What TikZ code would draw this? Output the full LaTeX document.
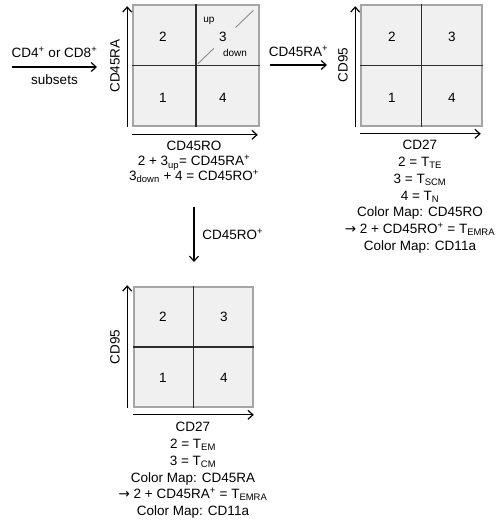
\documentclass[tikz,border=0pt]{standalone}
\usepackage{fontspec}
\setmainfont{Liberation Sans}
\newfontfamily\arrowfont{DejaVu Sans}
\usepackage{xcolor}
\usetikzlibrary{positioning,arrows.meta,calc}

\definecolor{boxfill}{RGB}{240,240,240}
\definecolor{boxedge}{RGB}{165,165,165}
\definecolor{quadcol}{RGB}{45,45,45}
\definecolor{gatecol}{RGB}{140,140,140}

\begin{document}
\begin{tikzpicture}[x=1pt,y=-1pt,>={Straight Barb[length=5pt,width=9pt]},
	font=\fontsize{13.5}{16.8}\selectfont,
	plotbox/.style={draw=boxedge,line width=1.6pt,fill=boxfill,inner sep=0pt},
	quadline/.style={draw=quadcol,line width=1.2pt},
	axis/.style={->,line width=1.2pt},
	flow/.style={->,line width=1.2pt},
	gate/.style={draw=gatecol,line width=0.9pt},
	caption/.style={align=center,anchor=north,inner sep=0pt},
	small/.style={font=\fontsize{10}{12}\selectfont}]

	\useasboundingbox[fill=white] (0,0) rectangle (502,523);

	% input arrow
	\coordinate (inL) at (12,67);
	\coordinate (inR) at (97,67);
	\draw[flow] (inL) -- node[above=5pt]{CD4\textsuperscript{+} or CD8\textsuperscript{+}} node[below=4pt]{subsets} (inR);

	% CD45RA / CD45RO plot
	\node[plotbox,minimum width=126pt,minimum height=121pt] (boxA) at (196,65.5) {};
	\draw[quadline] (boxA.north) -- (boxA.south) (boxA.west) -- (boxA.east);
	\draw[gate] ($(boxA.center)!0.03!(boxA.north east)$) -- ($(boxA.center)!0.28!(boxA.north east)$)
	            ($(boxA.center)!0.62!(boxA.north east)$) -- ($(boxA.center)!0.9!(boxA.north east)$);
	\node (a2) at (163,37) {2};
	\node (a3) at (223,37) {3};
	\node (a1) at (163,98) {1};
	\node (a4) at (223,98) {4};
	\node[small] (aUp) at (209,21) {up};
	\node[small] (aDown) at (235,53) {down};
	\draw[axis] ([xshift=-5pt]boxA.south west) -- ([xshift=-5pt,yshift=-2pt]boxA.north west);
	\draw[axis] ([yshift=-8pt]boxA.south west) -- ([yshift=-8pt,xshift=-2pt]boxA.south east);
	\node[rotate=90] (yA) at (115,66) {CD45RA};
	\node[caption] (capA) at (194,140.5) {CD45RO\\[-1pt]
		2 + 3\textsubscript{up}= CD45RA\textsuperscript{+}\\[-2pt]
		3\textsubscript{down} + 4 = CD45RO\textsuperscript{+}};

	% CD45RA+ branch
	\coordinate (raL) at (270,65);
	\coordinate (raR) at (327,65);
	\draw[flow] (raL) -- node[above=4pt]{CD45RA\textsuperscript{+}} (raR);

	\node[plotbox,minimum width=121pt,minimum height=121pt] (boxB) at (421.5,65.5) {};
	\draw[quadline] (boxB.north) -- (boxB.south) (boxB.west) -- (boxB.east);
	\node (b2) at (392,37) {2};
	\node (b3) at (452,37) {3};
	\node (b1) at (392,98) {1};
	\node (b4) at (452,98) {4};
	\draw[axis] ([xshift=-5pt]boxB.south west) -- ([xshift=-5pt,yshift=-2pt]boxB.north west);
	\draw[axis] ([yshift=-7pt]boxB.south west) -- ([yshift=-7pt,xshift=-2pt]boxB.south east);
	\node[rotate=90] (yB) at (343,65) {CD95};
	\node[caption] (capB) at (420,140) {CD27\\
		2 = T\textsubscript{TE}\\
		3 = T\textsubscript{SCM}\\
		4 = T\textsubscript{N}\\
		Color Map: CD45RO\\
		{\arrowfont →} 2 + CD45RO\textsuperscript{+} = T\textsubscript{EMRA}\\
		Color Map: CD11a};

	% CD45RO+ branch
	\coordinate (roT) at (194,207);
	\coordinate (roB) at (194,262);
	\draw[flow] (roT) -- node[right=4.5pt]{CD45RO\textsuperscript{+}} (roB);

	\node[plotbox,minimum width=119pt,minimum height=120pt] (boxC) at (193.5,347) {};
	\draw[quadline] (boxC.north) -- (boxC.south) (boxC.west) -- (boxC.east);
	\node (c2) at (163,317) {2};
	\node (c3) at (224,317) {3};
	\node (c1) at (163,378) {1};
	\node (c4) at (224,378) {4};
	\draw[axis] ([xshift=-6pt]boxC.south west) -- ([xshift=-6pt,yshift=1pt]boxC.north west);
	\draw[axis] ([yshift=-7pt]boxC.south west) -- ([yshift=-7pt]boxC.south east);
	\node[rotate=90] (yC) at (115,347) {CD95};
	\node[caption] (capC) at (193,422) {CD27\\
		2 = T\textsubscript{EM}\\
		3 = T\textsubscript{CM}\\
		Color Map: CD45RA\\
		{\arrowfont →} 2 + CD45RA\textsuperscript{+} = T\textsubscript{EMRA}\\
		Color Map: CD11a};
\end{tikzpicture}
\end{document}
